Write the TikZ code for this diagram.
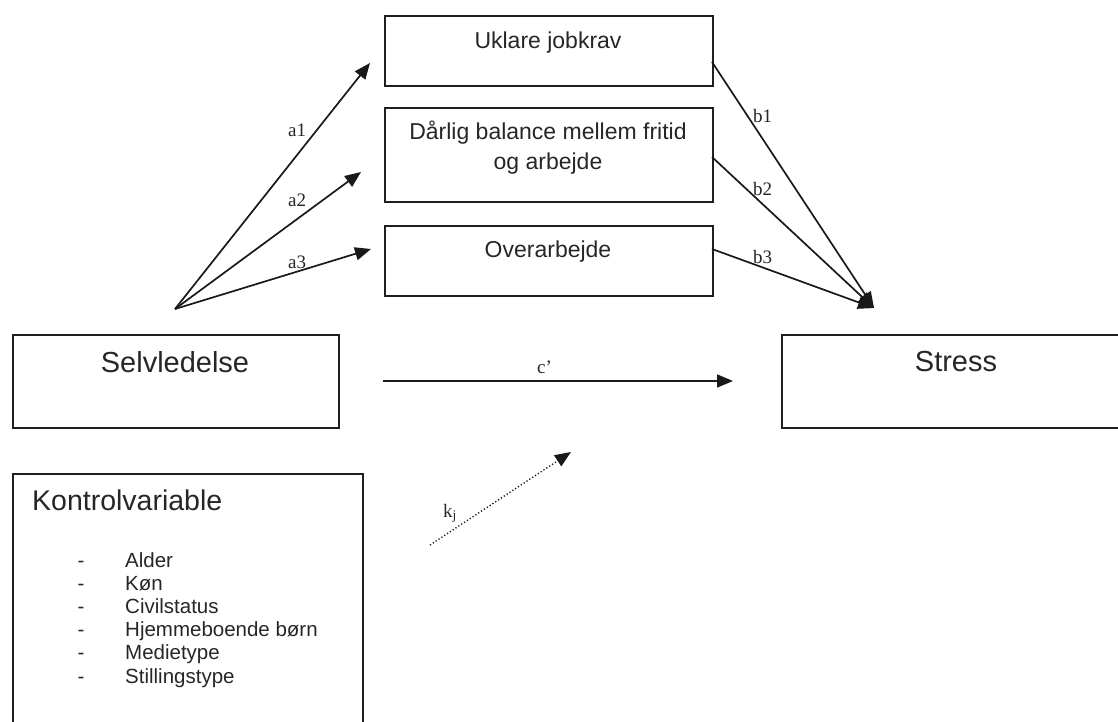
\documentclass[tikz,border=0pt]{standalone}
\usepackage{fontspec}
\setmainfont{Liberation Serif}
\newfontfamily\arial{Liberation Sans}
\usetikzlibrary{arrows.meta}
\begin{document}
\begin{tikzpicture}[x=1pt,y=-1pt,
  box/.style={draw=black!88, line width=1.9pt, inner sep=0pt, anchor=north west},
  midtxt/.style={inner sep=0pt, anchor=base, font=\arial\fontsize{23}{29}\selectfont, text=black!85},
  bigtxt/.style={inner sep=0pt, anchor=base, font=\arial\fontsize{29}{34}\selectfont, text=black!85},
  listtxt/.style={inner sep=0pt, anchor=base west, font=\arial\fontsize{20.5}{23.5}\selectfont, text=black!85},
  lbl/.style={inner sep=0pt, anchor=base west, font=\fontsize{19}{22}\selectfont, text=black!85},
  arr/.style={line width=1.7pt, draw=black!90, -{Triangle[length=16pt,width=13pt]}},
  dotarr/.style={line width=1.4pt, draw=black!90, dash pattern=on 1.2pt off 2.2pt, -{Triangle[length=16pt,width=13pt]}}
]
\useasboundingbox (0,0) rectangle (1118,722);
\clip (0,0) rectangle (1118,722);

% boxes
\node[box, minimum width=328pt, minimum height=70pt] (ukl) at (384,15) {};
\node[box, minimum width=328pt, minimum height=94pt] (bal) at (384,107) {};
\node[box, minimum width=328pt, minimum height=70pt] (ovr) at (384,225) {};
\node[box, minimum width=326pt, minimum height=93pt] (sel) at (12,334) {};
\node[box, minimum width=350pt, minimum height=93pt] (str) at (781,334) {};
\node[box, minimum width=350pt, minimum height=290pt] (kon) at (12,473) {};

% box texts
\node[midtxt] (uklt) at (548,48.5) {Uklare jobkrav};
\node[midtxt] (balt1) at (548,140) {Dårlig balance mellem fritid};
\node[midtxt] (balt2) at (548,169.5) {og arbejde};
\node[midtxt] (ovrt) at (548,257) {Overarbejde};
\node[bigtxt] (selt) at (175,372) {Selvledelse};
\node[bigtxt] (strt) at (956,371) {Stress};
\node[bigtxt, anchor=base west, font=\arial\fontsize{28.5}{34}\selectfont] (kont) at (32,510) {Kontrolvariable};

\foreach \t [count=\i from 0] in {Alder,Køn,Civilstatus,Hjemmeboende børn,Medietype,Stillingstype}{
  \node[listtxt, anchor=base] (dash\i) at (81,567+23.2*\i) {-};
  \node[listtxt] (item\i) at (125,567+23.2*\i) {\t};
}

% connector ends
\coordinate (o) at (175,309);
\coordinate (a1e) at (370,63);
\coordinate (a2e) at (361,172);
\coordinate (a3e) at (371,249);
\coordinate (b1s) at (712,62);
\coordinate (b2s) at (712,157);
\coordinate (b3s) at (712,249);
\coordinate (be) at (874,308);
\coordinate (cs) at (383,381);
\coordinate (ce) at (733,381);
\coordinate (ks) at (430,545);
\coordinate (ke) at (571,452);

\draw[arr] (o) -- (a1e);
\draw[arr] (o) -- (a2e);
\draw[arr] (o) -- (a3e);
\draw[arr] (b1s) -- (be);
\draw[arr] (b2s) -- (be);
\draw[arr] (b3s) -- (be);
\draw[arr] (cs) -- (ce);
\draw[dotarr] (ks) -- (ke);

% labels
\node[lbl] (la1) at (288,137) {a1};
\node[lbl] (la2) at (288,207) {a2};
\node[lbl] (la3) at (288,268) {a3};
\node[lbl] (lb1) at (753,123) {b1};
\node[lbl] (lb2) at (753,195) {b2};
\node[lbl] (lb3) at (753,263) {b3};
\node[lbl] (lc) at (537,373) {c’};
\node[lbl] (lk) at (443,517) {k\textsubscript{j}};
\end{tikzpicture}
\end{document}
